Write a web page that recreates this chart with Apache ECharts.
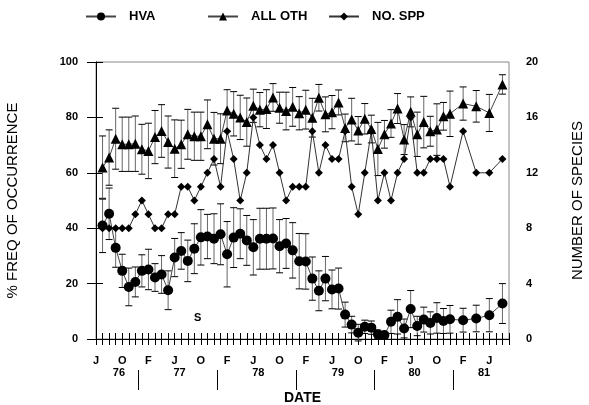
<!DOCTYPE html>
<html><head><meta charset="utf-8">
<script src="https://cdn.jsdelivr.net/npm/echarts@6/dist/echarts.min.js"></script>
<style>html,body{margin:0;padding:0;background:#fff}#c{width:589px;height:405px}</style>
</head><body><div id="c"></div>
<script>
// x position of each sample, in months counted from the first tick (June 1976)
const months = [1,2,3,4,5,6,7,8,9,10,11,12,13,14,15,16,17,18,19,20,21,22,23,24,25,26,27,28,29,30,
  31,32,33,34,35,36,37,38,39,40,41,42,43,44,45,46,47,48,49,50,51,52,53,54,56,58,60,62];
const hva = [41.0,45.2,32.9,24.6,18.8,20.6,24.6,25.1,22.2,23.3,17.6,29.4,31.8,28.2,32.6,36.7,37.0,36.2,37.8,30.6,
  36.6,38.0,35.6,33.1,36.2,36.2,36.3,33.5,34.5,32.0,28.1,28.0,21.8,17.4,21.8,17.9,18.2,8.8,5.2,2.3,
  4.4,4.1,1.7,1.4,6.2,8.0,3.8,10.8,4.7,7.0,5.8,7.6,6.5,7.1,6.8,7.4,8.6,12.8];
const hvaErr = [9.8,9.3,7,6,6.8,5.4,5.8,7.3,5,6.8,7,6.9,6.6,7.5,9,10,8,9,11,11.8,
  10.8,9,9,10,11,11,11,9.6,9,10,10,10,7.8,7.2,8,7,7.4,4.5,3,3,
  2.4,2.4,1.5,1,4.2,6.2,3.4,6.7,3.5,4.5,4,5.5,4.5,5,4.3,4.8,6,7.2];
const allOth = [61.9,65.5,72.3,70.3,70.3,70.5,68.5,67.9,72.9,75.1,71.1,68.7,70.3,73.9,73.2,73.2,77.5,72.3,72.3,82.5,
  81.3,80.0,78.3,84.2,82.8,83.0,87.2,83.5,82.3,83.8,81.5,82.8,79.9,87.1,81.1,81.9,85.4,76.2,79.2,75.3,
  79.5,75.8,68.6,73.9,77.8,83.2,72.0,82.0,73.9,78.3,75.0,75.6,80.4,81.3,85.0,84.0,81.6,91.9];
const allOthErr = [11.4,10,11,9.8,9.8,10,9,10,9.6,9.5,9.4,10.4,8.7,9,8.7,8.7,8.8,9.5,9,7.5,
  8,8,8.7,6,6.2,7,5,5.6,6.8,7,6,7,7,4.8,6.3,6,4.5,5,7.7,5,
  5.5,5,9.6,5,5,5.4,5.4,5.4,8,9.3,5.4,9.3,5,8.2,6,5.7,6.7,3.5];
const noSpp = [8,8,8,8,8,9,10,9,8,8,9,9,11,11,10,11,12,13,11,15,
  13,10,12,16,14,13,14,12,10,11,11,11,15,12,14,13,13,15,11,9,
  12,15,10,12,10,12,13,16,12,12,13,13,13,11,15,12,12,13];
const monthTickPos = [0,4,8,12,16,20,24,28,32,36,40,44,48,52,56,60];
const monthTickLabels = ['J','O','F','J','O','F','J','O','F','J','O','F','J','O','F','J'];
const yearLabels = ['76','77','78','79','80','81'];
const yearLabelPos = [3.5,12.75,24.75,36.9,48.6,59.2];
const yearDividers = [6.5,18.5,30.5,42.5,54.5];
const noteText = 'S', noteMonth = 15.5, noteValue = 7.5;
const X_MAX = 63;

const FONT = 'Arial, "Liberation Sans", Helvetica, sans-serif';
const monthTicks = [];
for (let m = 0; m <= X_MAX; m++) monthTicks.push(m);

const chart = echarts.init(document.getElementById('c'), null, {renderer:'canvas'});

function errItem(params, api){
  const x = api.value(0), y = api.value(1), e = api.value(2);
  const t = api.coord([x, y + e]), b = api.coord([x, y - e]);
  const w = 3.5;
  return {type:'group', children:[
    {type:'line', shape:{x1:t[0], y1:t[1], x2:b[0], y2:b[1]}, style:{stroke:'#666', lineWidth:1}},
    {type:'line', shape:{x1:t[0]-w, y1:t[1], x2:t[0]+w, y2:t[1]}, style:{stroke:'#000', lineWidth:1}},
    {type:'line', shape:{x1:b[0]-w, y1:b[1], x2:b[0]+w, y2:b[1]}, style:{stroke:'#000', lineWidth:1}}
  ]};
}
const legendText = {fontWeight:'bold', fontSize:13, color:'#000', fontFamily:FONT, padding:[0,0,0,8]};
const tickLabel = {fontWeight:'bold', fontSize:11, color:'#000', fontFamily:FONT};
const nameStyle = {fontSize:15, color:'#000', fontFamily:FONT};
const legendBase = {top:10, padding:0, itemWidth:30, itemHeight:10, textStyle:legendText};

chart.setOption({
  animation:false,
  backgroundColor:'#fff',
  textStyle:{fontFamily:FONT},
  grid:{left:96, right:80, top:62, bottom:66, show:true, borderColor:'#888', borderWidth:1,
        outerBoundsMode:'none', containLabel:false},
  legend:[
    {...legendBase, data:['HVA'], left:85},
    {...legendBase, data:['ALL OTH'], left:207},
    {...legendBase, data:['NO. SPP'], left:328}
  ],
  xAxis:[
    {type:'value', min:0, max:X_MAX, position:'bottom',
     axisLine:{show:true, lineStyle:{color:'#000'}},
     axisTick:{show:true, length:6, customValues:monthTicks, lineStyle:{color:'#000'}},
     axisLabel:{...tickLabel, margin:16, customValues:monthTickPos,
       formatter:v => {const i = monthTickPos.indexOf(v); return i >= 0 ? monthTickLabels[i] : '';}},
     splitLine:{show:false},
     name:'DATE', nameLocation:'middle', nameGap:52,
     nameTextStyle:{fontWeight:'bold', fontSize:14, color:'#000', fontFamily:FONT}},
    {type:'value', min:0, max:X_MAX, position:'bottom',
     axisLine:{show:false},
     axisTick:{show:true, inside:true, length:6, customValues:monthTicks, lineStyle:{color:'#000'}},
     axisLabel:{show:false}, splitLine:{show:false}},
    {type:'value', min:0, max:X_MAX, position:'bottom',
     axisLine:{show:false}, axisTick:{show:false}, splitLine:{show:false},
     axisLabel:{...tickLabel, margin:28, customValues:yearLabelPos,
       formatter:v => {const i = yearLabelPos.indexOf(v); return i >= 0 ? yearLabels[i] : '';}}},
    {type:'value', min:0, max:X_MAX, position:'bottom', offset:31,
     axisLine:{show:false}, splitLine:{show:false}, axisLabel:{show:false},
     axisTick:{show:true, length:20, customValues:yearDividers, lineStyle:{color:'#000'}}}
  ],
  yAxis:[
    {type:'value', min:0, max:100, interval:20, position:'left',
     axisLine:{show:true, lineStyle:{color:'#888'}},
     axisTick:{show:true, length:9, lineStyle:{color:'#000'}},
     axisLabel:{...tickLabel, margin:18}, splitLine:{show:false},
     name:'% FREQ OF OCCURRENCE', nameLocation:'middle', nameGap:76, nameRotate:90,
     nameTextStyle:nameStyle},
    {type:'value', min:0, max:20, interval:4, position:'right',
     axisLine:{show:true, lineStyle:{color:'#000'}},
     axisTick:{show:false}, axisLabel:{...tickLabel, margin:17}, splitLine:{show:false},
     name:'NUMBER OF SPECIES', nameLocation:'middle', nameGap:61, nameRotate:90,
     nameTextStyle:nameStyle},
    {type:'value', min:0, max:100, interval:20, position:'left',
     axisLine:{show:false}, axisTick:{show:true, inside:true, length:7, lineStyle:{color:'#000'}},
     axisLabel:{show:false}, splitLine:{show:false}}
  ],
  series:[
    {name:'hvaErr', type:'custom', renderItem:errItem, xAxisIndex:0, yAxisIndex:0, z:1,
     data:months.map((m,i) => [m, hva[i], hvaErr[i]])},
    {name:'othErr', type:'custom', renderItem:errItem, xAxisIndex:0, yAxisIndex:0, z:1,
     data:months.map((m,i) => [m, allOth[i], allOthErr[i]])},
    {name:'NO. SPP', type:'line', xAxisIndex:0, yAxisIndex:1, z:3, color:'#000',
     symbol:'diamond', symbolSize:8, showAllSymbol:true,
     lineStyle:{color:'#333', width:1}, itemStyle:{color:'#000'},
     data:months.map((m,i) => [m, noSpp[i]])},
    {name:'ALL OTH', type:'line', xAxisIndex:0, yAxisIndex:0, z:3, color:'#000',
     symbol:'triangle', symbolSize:10, showAllSymbol:true,
     lineStyle:{color:'#444', width:1}, itemStyle:{color:'#000'},
     data:months.map((m,i) => [m, allOth[i]])},
    {name:'HVA', type:'line', xAxisIndex:0, yAxisIndex:0, z:3, color:'#000',
     symbol:'circle', symbolSize:10, showAllSymbol:true,
     lineStyle:{color:'#444', width:1}, itemStyle:{color:'#000'},
     data:months.map((m,i) => [m, hva[i]]),
     markPoint:{symbol:'circle', symbolSize:1, itemStyle:{color:'rgba(0,0,0,0)'},
       label:{show:true, position:'inside', formatter:noteText, ...tickLabel},
       data:[{coord:[noteMonth, noteValue]}]}}
  ]
});
</script></body></html>
